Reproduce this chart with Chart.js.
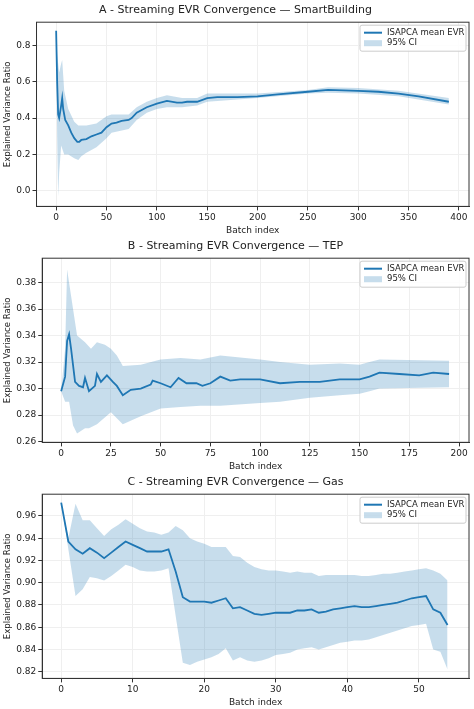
<!DOCTYPE html>
<html><head><meta charset="utf-8">
<script src="https://cdn.jsdelivr.net/npm/chart.js@4.4.0/dist/chart.umd.min.js"></script>
<style>
body{margin:0;background:#fff;}
.p{width:474px;height:236px;position:relative;}
</style></head><body>
<div class="p"><canvas id="cA"></canvas></div>
<div class="p"><canvas id="cB"></canvas></div>
<div class="p"><canvas id="cC"></canvas></div>
<script>
// panel A - SmartBuilding
const aMeanX = [0,1,2,3,5,6,7,9,12,15,18,21,23,25,30,35,40,45,50,55,60,65,72,75,80,90,100,110,120,125,130,140,150,160,180,200,220,250,270,300,320,340,360,390];
const aMeanY = [0.88,0.60,0.42,0.40,0.47,0.51,0.45,0.39,0.36,0.32,0.29,0.27,0.27,0.28,0.285,0.30,0.31,0.32,0.35,0.37,0.375,0.385,0.39,0.40,0.43,0.46,0.48,0.495,0.485,0.485,0.49,0.49,0.51,0.515,0.515,0.52,0.53,0.545,0.555,0.55,0.545,0.535,0.52,0.49];
const aUpX = [0,1,3,5,6,8,12,18,22,30,40,50,55,72,80,90,100,110,125,140,150,200,250,270,300,340,390];
const aUpY = [0.88,0.75,0.65,0.70,0.72,0.55,0.45,0.38,0.36,0.36,0.37,0.41,0.42,0.42,0.46,0.49,0.51,0.525,0.51,0.51,0.535,0.535,0.555,0.57,0.565,0.55,0.51];
const aLoX = [0,1,2,3,5,8,12,18,22,25,30,40,50,55,72,80,90,100,110,125,140,150,200,250,270,300,340,390];
const aLoY = [0.88,0.30,-0.03,0.10,0.25,0.20,0.20,0.18,0.17,0.19,0.21,0.24,0.29,0.32,0.34,0.39,0.43,0.45,0.46,0.46,0.47,0.49,0.51,0.535,0.54,0.535,0.52,0.475];
const aXTicks = [0,50,100,150,200,250,300,350,400];
const aYTicks = [0.0,0.2,0.4,0.6,0.8];

// panel B - TEP
const bMeanX = [0,2,3,4,5,7,9,11,12,14,17,18,20,23,26,28,31,35,40,45,46,50,55,59,63,68,71,75,80,85,90,100,110,120,125,130,140,150,155,160,170,180,187,195];
const bMeanY = [0.298,0.309,0.336,0.341,0.33,0.305,0.302,0.301,0.308,0.298,0.302,0.311,0.305,0.310,0.305,0.302,0.295,0.299,0.300,0.303,0.306,0.304,0.301,0.308,0.304,0.304,0.302,0.304,0.309,0.306,0.307,0.307,0.304,0.305,0.305,0.305,0.307,0.307,0.309,0.312,0.311,0.310,0.312,0.311];
const bUpX = [0,2,3,5,8,12,15,18,22,25,28,31,40,50,60,70,80,100,110,125,140,150,155,160,195];
const bUpY = [0.298,0.33,0.39,0.37,0.34,0.335,0.33,0.335,0.333,0.33,0.325,0.317,0.318,0.322,0.323,0.322,0.325,0.322,0.32,0.318,0.319,0.318,0.32,0.322,0.321];
const bLoX = [0,2,4,6,8,12,14,18,25,31,40,50,60,70,80,100,110,125,140,150,155,160,195];
const bLoY = [0.298,0.29,0.29,0.272,0.266,0.27,0.27,0.273,0.282,0.273,0.279,0.285,0.286,0.287,0.287,0.289,0.29,0.293,0.295,0.296,0.298,0.300,0.301];
const bXTicks = [0,25,50,75,100,125,150,175,200];
const bYTicks = [0.26,0.28,0.30,0.32,0.34,0.36,0.38];

// panel C - Gas (one value per batch)
const cMean = [0.972,0.937,0.930,0.926,0.931,0.927,0.922,0.927,0.932,0.937,0.934,0.931,0.928,0.928,0.928,0.930,0.910,0.887,0.883,0.883,0.883,0.882,0.884,0.886,0.877,0.878,0.875,0.872,0.871,0.872,0.873,0.873,0.873,0.875,0.875,0.876,0.873,0.874,0.876,0.877,0.878,0.879,0.878,0.878,0.879,0.880,0.881,0.882,0.884,0.886,0.887,0.888,0.876,0.873,0.862];
const cUp = [0.972,0.94,0.971,0.956,0.956,0.949,0.942,0.948,0.952,0.957,0.953,0.949,0.946,0.945,0.943,0.945,0.951,0.947,0.940,0.937,0.935,0.932,0.932,0.932,0.924,0.923,0.918,0.914,0.912,0.911,0.911,0.910,0.909,0.910,0.909,0.909,0.906,0.907,0.907,0.907,0.907,0.907,0.906,0.906,0.907,0.908,0.908,0.909,0.910,0.911,0.912,0.913,0.911,0.908,0.902];
const cLo = [0.972,0.93,0.888,0.894,0.905,0.904,0.902,0.906,0.911,0.916,0.914,0.911,0.910,0.910,0.911,0.913,0.87,0.828,0.826,0.829,0.831,0.833,0.836,0.841,0.830,0.833,0.830,0.829,0.830,0.832,0.835,0.836,0.837,0.840,0.841,0.842,0.840,0.842,0.844,0.846,0.847,0.848,0.848,0.849,0.851,0.853,0.855,0.857,0.859,0.861,0.862,0.863,0.840,0.838,0.822];
const cXTicks = [0,10,20,30,40,50];
const cYTicks = [0.82,0.84,0.86,0.88,0.90,0.92,0.94,0.96];

const LINE = "#1f77b4";
const BAND = "rgba(31,119,180,0.25)";
const FONT = "DejaVu Sans";

const pts = (xs, ys) => ys.map((y, i) => ({ x: xs ? xs[i] : i, y: y }));

// frame around the plot + legend inside, top right
const innerLegend = {
  id: "innerLegend",
  afterDraw(chart) {
    const ctx = chart.ctx, a = chart.chartArea;
    ctx.save();
    ctx.strokeStyle = "#333"; ctx.lineWidth = 1;
    ctx.strokeRect(a.left, a.top, a.right - a.left, a.bottom - a.top);
    const w = 106, h = 26, x = a.right - w - 3, y = a.top + 3;
    ctx.fillStyle = "rgba(255,255,255,0.85)";
    ctx.strokeStyle = "#cccccc";
    ctx.beginPath();
    ctx.roundRect(x, y, w, h, 2);
    ctx.fill(); ctx.stroke();
    ctx.strokeStyle = LINE; ctx.lineWidth = 2;
    ctx.beginPath(); ctx.moveTo(x + 4, y + 7.5); ctx.lineTo(x + 22, y + 7.5); ctx.stroke();
    ctx.fillStyle = BAND;
    ctx.fillRect(x + 4, y + 15, 18, 6);
    ctx.fillStyle = "#222"; ctx.font = "8.5px " + FONT; ctx.textBaseline = "middle";
    ctx.fillText("ISAPCA mean EVR", x + 27, y + 7.5);
    ctx.fillText("95% CI", x + 27, y + 18);
    ctx.restore();
  }
};

const makeChart = (id, title, mean, up, lo, xmin, xmax, ymin, ymax, xTicks, yTicks, yFmt) => {
  new Chart(document.getElementById(id), {
    type: "line",
    data: {
      datasets: [
        { data: mean, borderColor: LINE, borderWidth: 1.8, pointRadius: 0, fill: false, tension: 0 },
        { data: up, borderColor: "rgba(0,0,0,0)", borderWidth: 0, pointRadius: 0, backgroundColor: BAND, fill: "+1", tension: 0 },
        { data: lo, borderColor: "rgba(0,0,0,0)", borderWidth: 0, pointRadius: 0, fill: false, tension: 0 },
      ],
    },
    options: {
      responsive: true,
      maintainAspectRatio: false,
      animation: false,
      layout: { padding: { left: 2, right: 5, top: 0, bottom: 0 } },
      plugins: {
        legend: { display: false },
        tooltip: { enabled: false },
        title: { display: true, text: title, color: "#222", font: { family: FONT, size: 11, weight: "normal" }, padding: { top: 4, bottom: 5 } },
      },
      scales: {
        x: {
          type: "linear", min: xmin, max: xmax,
          afterBuildTicks: (s) => { s.ticks = xTicks.map((v) => ({ value: v })); },
          ticks: { color: "#222", font: { family: FONT, size: 9 }, maxRotation: 0, padding: 2 },
          grid: { color: "#efefef", tickColor: "#333", tickLength: 4 },
          border: { color: "#333" },
          title: { display: true, text: "Batch index", color: "#222", font: { family: FONT, size: 9 }, padding: 0 },
        },
        y: {
          min: ymin, max: ymax,
          afterBuildTicks: (s) => { s.ticks = yTicks.map((v) => ({ value: v })); },
          ticks: { color: "#222", font: { family: FONT, size: 9 }, padding: 2, callback: (v) => v.toFixed(yFmt) },
          grid: { color: "#efefef", tickColor: "#333", tickLength: 4 },
          border: { color: "#333" },
          title: { display: true, text: "Explained Variance Ratio", color: "#222", font: { family: FONT, size: 8.5 }, padding: 1 },
        },
      },
    },
    plugins: [innerLegend],
  });
};

makeChart("cA", "A - Streaming EVR Convergence \u2014 SmartBuilding",
  pts(aMeanX, aMeanY), pts(aUpX, aUpY), pts(aLoX, aLoY), -19.5, 410, -0.085, 0.927, aXTicks, aYTicks, 1);
makeChart("cB", "B - Streaming EVR Convergence \u2014 TEP",
  pts(bMeanX, bMeanY), pts(bUpX, bUpY), pts(bLoX, bLoY), -9.5, 205, 0.2593, 0.3985, bXTicks, bYTicks, 2);
makeChart("cC", "C - Streaming EVR Convergence \u2014 Gas",
  pts(null, cMean), pts(null, cUp), pts(null, cLo), -2.65, 57, 0.814, 0.9795, cXTicks, cYTicks, 2);
</script>
</body></html>
